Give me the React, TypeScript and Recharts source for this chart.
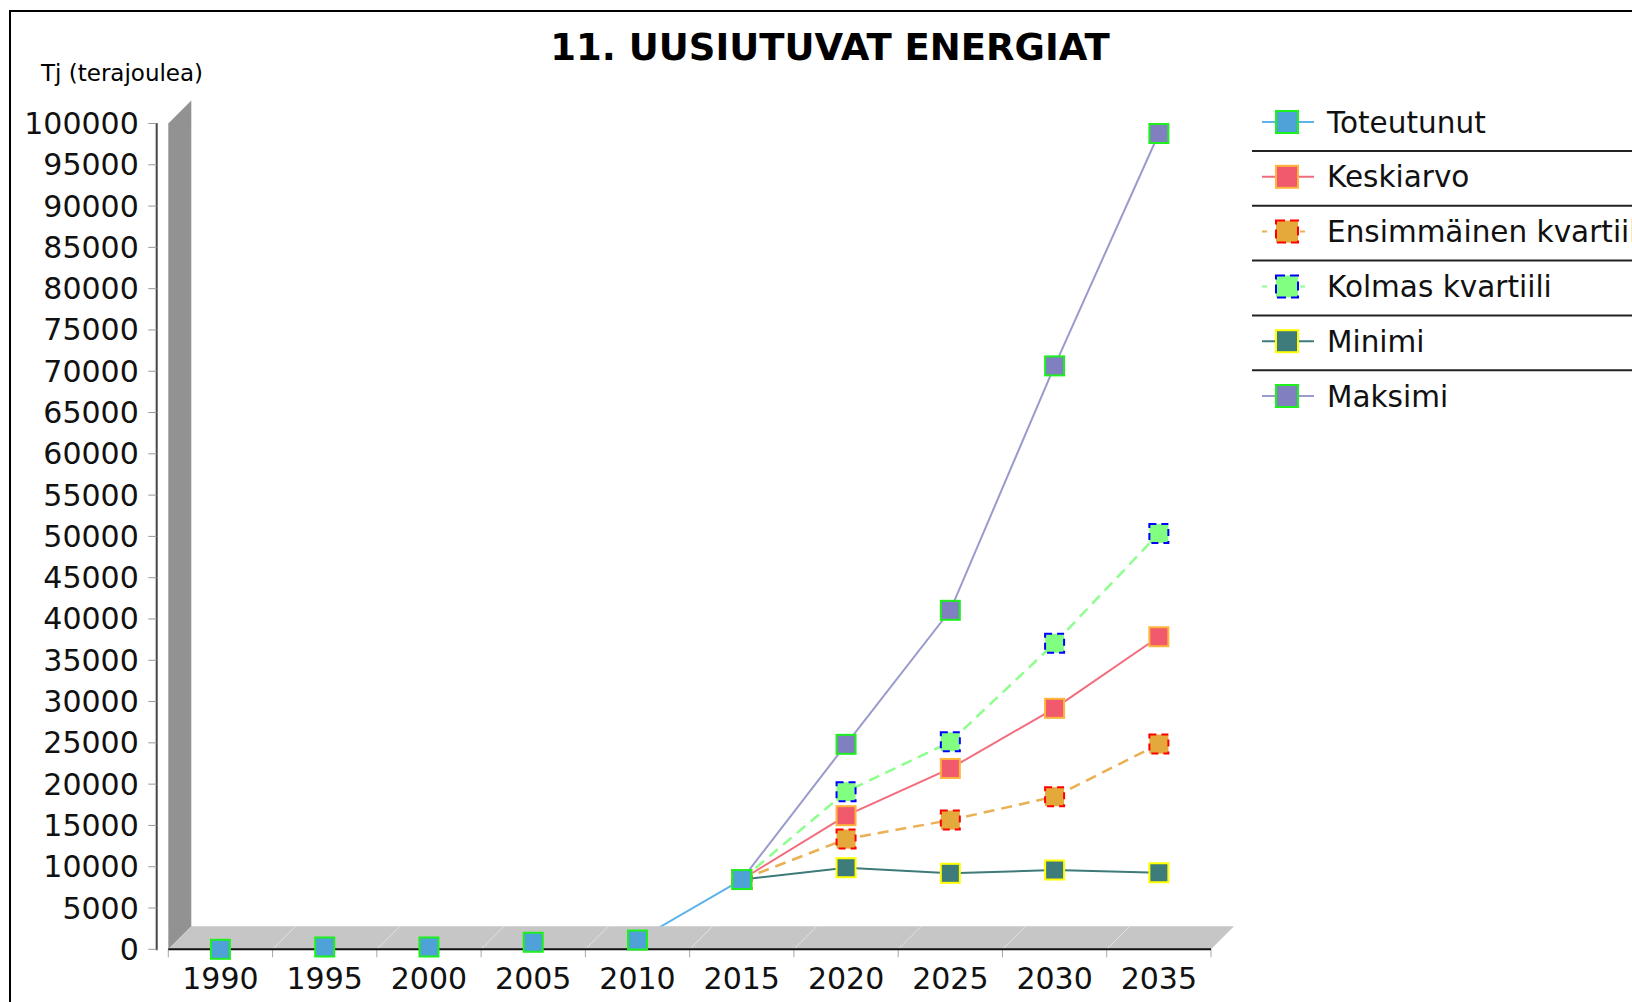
import React from "react";
import { LineChart, Line, XAxis, YAxis, ReferenceArea } from "recharts";

const YEARS = ["1990", "1995", "2000", "2005", "2010", "2015", "2020", "2025", "2030", "2035"];

const TOTEUTUNUT = [0, 280, 280, 850, 1120, 8450, null, null, null, null];
const KESKIARVO = [null, null, null, null, null, 8450, 16180, 21900, 29180, 37850];
const ENSIMMAINEN_KVARTIILI = [null, null, null, null, null, 8450, 13350, 15650, 18480, 24850];
const KOLMAS_KVARTIILI = [null, null, null, null, null, 8450, 19080, 25130, 37050, 50360];
const MINIMI = [null, null, null, null, null, 8450, 9880, 9200, 9600, 9270];
const MAKSIMI = [null, null, null, null, null, 8450, 24820, 41050, 70650, 98790];

const Y_TICKS = [
  0, 5000, 10000, 15000, 20000, 25000, 30000, 35000, 40000, 45000, 50000,
  55000, 60000, 65000, 70000, 75000, 80000, 85000, 90000, 95000, 100000,
];

const TITLE = "11. UUSIUTUVAT ENERGIAT";
const UNIT_LABEL = "Tj (terajoulea)";

interface SeriesDef {
  key: string;
  name: string;
  values: (number | null)[];
  line: string;
  fill: string;
  outline: string;
  dashed: boolean;
}

const SERIES: SeriesDef[] = [
  { key: "toteutunut", name: "Toteutunut", values: TOTEUTUNUT, line: "#5cb2ea", fill: "#4fa2d8", outline: "#1ef01e", dashed: false },
  { key: "keskiarvo", name: "Keskiarvo", values: KESKIARVO, line: "#f26c7c", fill: "#f05a6c", outline: "#ffb43c", dashed: false },
  { key: "ensimmainen", name: "Ensimmäinen kvartiili", values: ENSIMMAINEN_KVARTIILI, line: "#e9b152", fill: "#e5a83a", outline: "#ff0000", dashed: true },
  { key: "kolmas", name: "Kolmas kvartiili", values: KOLMAS_KVARTIILI, line: "#8cff8c", fill: "#80ff80", outline: "#0000ff", dashed: true },
  { key: "minimi", name: "Minimi", values: MINIMI, line: "#3f7a7a", fill: "#3e7b7b", outline: "#ffff00", dashed: false },
  { key: "maksimi", name: "Maksimi", values: MAKSIMI, line: "#9a9acc", fill: "#8080c0", outline: "#1ef01e", dashed: false },
];

const data = YEARS.map((year, i) => {
  const row: Record<string, string | number | null> = { year };
  SERIES.forEach((s) => {
    row[s.key] = s.values[i];
  });
  return row;
});

// JFreeChart draws series in reverse order, so the first one ends up on top
const DRAW_ORDER = [...SERIES].reverse();

const FONT = "'DejaVu Sans', Verdana, sans-serif";
const DEPTH = 23;
const LINE_DASH = "11 7";

const makeDot = (s: SeriesDef) => (props: any) => {
  const { cx, cy, index, value } = props;
  if (cx == null || cy == null || value == null || (Array.isArray(value) && value[1] == null)) {
    return <g key={`${s.key}-dot-${index}`} />;
  }
  return (
    <rect
      key={`${s.key}-dot-${index}`}
      x={cx - 9.5}
      y={cy - 9.5}
      width={19}
      height={19}
      fill={s.fill}
      stroke={s.outline}
      strokeWidth={2}
      strokeDasharray={s.dashed ? "7 5" : undefined}
    />
  );
};

// 3D wall, floor and the axis lines of the JFreeChart look
const Frame3D = (props: any) => {
  const { x, y, width, height } = props;
  const bottom = y + height;
  const n = YEARS.length;
  const step = width / n;
  const bounds = Array.from({ length: n + 1 }, (_, i) => x + i * step);
  return (
    <g>
      <polygon
        points={`${x},${bottom} ${x},${y} ${x + DEPTH},${y - DEPTH} ${x + DEPTH},${bottom - DEPTH}`}
        fill="#929292"
      />
      <polygon
        points={`${x},${bottom} ${x + width},${bottom} ${x + width + DEPTH},${bottom - DEPTH} ${x + DEPTH},${bottom - DEPTH}`}
        fill="#c6c6c6"
      />
      {bounds.slice(1, n).map((bx, i) => (
        <line key={`fl-${i}`} x1={bx} y1={bottom} x2={bx + DEPTH} y2={bottom - DEPTH} stroke="#e2e2e2" strokeWidth={1} />
      ))}
      {bounds.map((bx, i) => (
        <line key={`xt-${i}`} x1={bx} y1={bottom} x2={bx} y2={bottom + 8} stroke="#a8a8a8" strokeWidth={1} />
      ))}
      <line x1={x} y1={bottom} x2={x + width} y2={bottom} stroke="#111" strokeWidth={2} />
      <line x1={x - 11.6} y1={y - 0.5} x2={x - 11.6} y2={bottom + 1} stroke="#444" strokeWidth={2} />
    </g>
  );
};

const YTick = (props: any) => {
  const { x, y, payload } = props;
  return (
    <g>
      <line x1={x - 20} y1={y} x2={x - 11.6} y2={y} stroke="#999" strokeWidth={1} />
      <text x={x - 29.5} y={y} dy={10.5} textAnchor="end" fontSize={30} fill="#111" fontFamily={FONT}>
        {payload.value}
      </text>
    </g>
  );
};

const XTick = (props: any) => {
  const { x, y, payload } = props;
  return (
    <text x={x} y={y} dy={39.7} textAnchor="middle" fontSize={30} fill="#111" fontFamily={FONT}>
      {payload.value}
    </text>
  );
};

const LEGEND_X = 1252;
const LEGEND_TOP = 122;
const LEGEND_STEP = 54.8;

const LegendBox = () => (
  <g fontFamily={FONT}>
    {SERIES.map((s, i) => {
      const cy = LEGEND_TOP + i * LEGEND_STEP;
      return (
        <g key={s.key}>
          <line
            x1={LEGEND_X + 10}
            y1={cy}
            x2={LEGEND_X + 62}
            y2={cy}
            stroke={s.line}
            strokeWidth={2}
            strokeDasharray={s.dashed ? "5 14" : undefined}
          />
          <rect
            x={LEGEND_X + 24}
            y={cy - 11}
            width={22}
            height={22}
            fill={s.fill}
            stroke={s.outline}
            strokeWidth={2}
            strokeDasharray={s.dashed ? "9 5" : undefined}
          />
          <text x={LEGEND_X + 75} y={cy + 10.5} fontSize={29.5} fill="#111">
            {s.name}
          </text>
          {i < SERIES.length - 1 && (
            <line x1={LEGEND_X} y1={cy + 29} x2={1700} y2={cy + 29} stroke="#222" strokeWidth={2} />
          )}
        </g>
      );
    })}
  </g>
);

export default function App() {
  return (
    <div style={{ position: "fixed", left: 0, top: 0, width: 1632, height: 1002, overflow: "hidden", background: "#fff" }}>
      <div style={{ position: "absolute", left: 0, top: 0 }}>
        <LineChart width={1632} height={1002} data={data} margin={{ top: 123.5, right: 421, left: 0, bottom: 0 }}>
          <XAxis
            dataKey="year"
            scale="band"
            interval={0}
            height={52.7}
            axisLine={false}
            tickLine={false}
            tickSize={0}
            tickMargin={0}
            tick={<XTick />}
          />
          <YAxis
            type="number"
            domain={[0, 100000]}
            ticks={Y_TICKS}
            interval={0}
            width={168.3}
            axisLine={false}
            tickLine={false}
            tickSize={0}
            tickMargin={0}
            tick={<YTick />}
          />
          {DRAW_ORDER.map((s) => (
            <Line
              key={`curve-${s.key}`}
              dataKey={s.key}
              stroke={s.line}
              strokeWidth={s.dashed ? 2.5 : 2}
              strokeDasharray={s.dashed ? LINE_DASH : undefined}
              dot={false}
              activeDot={false}
              type="linear"
              isAnimationActive={false}
              zIndex={400}
            />
          ))}
          <ReferenceArea y1={0} y2={100000} ifOverflow="visible" shape={(p: any) => <Frame3D {...p} />} zIndex={450} />
          {DRAW_ORDER.map((s) => (
            <Line
              key={`marks-${s.key}`}
              dataKey={s.key}
              stroke="none"
              dot={makeDot(s)}
              activeDot={false}
              type="linear"
              isAnimationActive={false}
              zIndex={500}
            />
          ))}
        </LineChart>
      </div>
      <svg width={1632} height={1002} style={{ position: "absolute", left: 0, top: 0, pointerEvents: "none" }}>
        <rect x={10} y={11} width={3000} height={3000} fill="none" stroke="#000" strokeWidth={2} />
        <text x={830} y={60} textAnchor="middle" fontSize={37} fontWeight="bold" fontFamily={FONT} fill="#000">
          {TITLE}
        </text>
        <text x={41} y={80.7} fontSize={23} fontFamily={FONT} fill="#000">
          {UNIT_LABEL}
        </text>
        <LegendBox />
      </svg>
    </div>
  );
}
